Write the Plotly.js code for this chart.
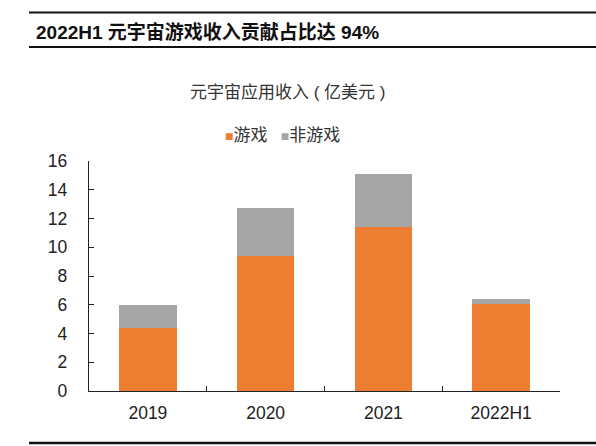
<!DOCTYPE html>
<html><head><meta charset="utf-8">
<script src="https://cdn.plot.ly/plotly-3.0.1.min.js"></script>
<style>body{margin:0;background:#fff}#c{width:596px;height:446px}</style>
</head><body><div id="c"></div>
<script>
var categories = ['2019', '2020', '2021', '2022H1'];
var gameRevenue = [4.4, 9.4, 11.4, 6.05];
var nonGameRevenue = [1.55, 3.3, 3.7, 0.38];
var seriesNames = ['游戏', '非游戏'];
var seriesColors = ['#ED7D31', '#A5A5A5'];
var yTicks = [0, 2, 4, 6, 8, 10, 12, 14, 16];

var F = 'Liberation Sans, Arial, Noto Sans CJK SC, sans-serif';
var traces = [
  {type:'bar', x:categories, y:gameRevenue, name:seriesNames[0], marker:{color:seriesColors[0]}},
  {type:'bar', x:categories, y:nonGameRevenue, name:seriesNames[1], marker:{color:seriesColors[1]}}
];
var legendText = seriesNames.map(function(n, i){
  return '<span style="color:' + seriesColors[i] + ';font-size:14px">■</span>' + n;
}).join('<span style="font-size:12px">&nbsp;&nbsp;&nbsp;&nbsp;</span>');
var layout = {
  width:596, height:446,
  margin:{l:89, r:36, t:161, b:55},
  barmode:'stack', bargap:0.51,
  paper_bgcolor:'#fff', plot_bgcolor:'#fff',
  font:{family:F, color:'#222', size:17},
  showlegend:false,
  xaxis:{type:'category', showline:true, linecolor:'#222', linewidth:1.2,
         ticks:'inside', tickson:'boundaries', ticklen:5, tickcolor:'#222',
         tickfont:{size:17.5, color:'#222'}, showgrid:false, ticklabelstandoff:6},
  yaxis:{range:[0,16], tickvals:yTicks, showline:true, linecolor:'#222', linewidth:1.2,
         ticks:'inside', ticklen:5, tickcolor:'#222', showgrid:false, zeroline:false,
         tickfont:{size:17.5, color:'#222'}, ticklabelstandoff:17},
  annotations:[
    {xref:'paper', yref:'paper', x:(34-89)/471, y:(391-32)/230, xanchor:'left', yanchor:'middle',
     text:'<b>2022H1 元宇宙游戏收入贡献占比达 94%</b>', showarrow:false,
     font:{size:19, color:'#111', family:F}},
    {xref:'paper', yref:'paper', x:(288-89)/471, y:(391-93)/230, xanchor:'center', yanchor:'middle',
     text:'元宇宙应用收入 ( 亿美元 )', showarrow:false, font:{size:17, color:'#333', family:F}},
    {xref:'paper', yref:'paper', x:(282-89)/471, y:(391-135)/230, xanchor:'center', yanchor:'middle',
     text:legendText, showarrow:false, font:{size:17, color:'#333', family:F}}
  ],
  shapes:[
    {type:'line', xref:'paper', yref:'paper', x0:(29-89)/471, x1:(596-89)/471,
     y0:(391-12.5)/230, y1:(391-12.5)/230, line:{color:'#111', width:2}},
    {type:'line', xref:'paper', yref:'paper', x0:(29-89)/471, x1:(596-89)/471,
     y0:(391-47)/230, y1:(391-47)/230, line:{color:'#111', width:2}},
    {type:'line', xref:'paper', yref:'paper', x0:(29-89)/471, x1:(596-89)/471,
     y0:(391-443)/230, y1:(391-443)/230, line:{color:'#111', width:2.5}}
  ]
};
Plotly.newPlot('c', traces, layout, {displayModeBar:false, staticPlot:true});
</script></body></html>
